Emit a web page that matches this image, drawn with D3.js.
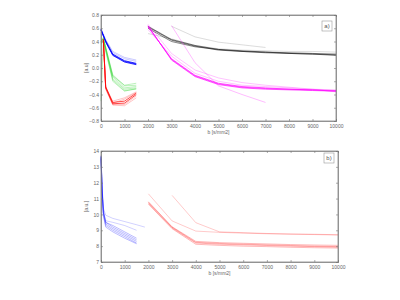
<!DOCTYPE html>
<html><head><meta charset="utf-8">
<script src="https://cdn.jsdelivr.net/npm/d3@7"></script>
<style>body{margin:0;background:#fff}svg{display:block}text{font-family:"Liberation Sans",Arial,sans-serif}</style>
</head><body>
<svg id="c" width="400" height="300"></svg>
<script>
// ---- Data ----
const xLong = [2000,3000,4000,5000,6000,7000,8000,9000,10000];
const xLong3 = [3000,4000,5000,6000,7000];
// panel a
const aBlueX = [0,200,500,1000,1500];
const aBlue = [
  [0.58,0.40,0.19,0.09,0.05],
  [0.58,0.39,0.20,0.10,0.06],
  [0.57,0.41,0.21,0.11,0.07],
  [0.59,0.42,0.23,0.14,0.10],
  [0.60,0.43,0.25,0.16,0.12]
];
const aGreenX = [0,100,500,1000,1500];
const aGreen = [
  [0.40,0.45,-0.10,-0.27,-0.26],
  [0.42,0.43,-0.13,-0.30,-0.28],
  [0.38,0.44,-0.16,-0.32,-0.30],
  [0.36,0.42,-0.18,-0.34,-0.32],
  [0.40,0.46,-0.12,-0.26,-0.23],
  [-0.50,0.40,-0.20,-0.35,-0.31]
];
const aRedX = [100,200,500,1000,1500];
const aRed = [
  [0.42,-0.30,-0.54,-0.53,-0.40],
  [0.44,-0.28,-0.52,-0.50,-0.38],
  [0.40,-0.32,-0.55,-0.55,-0.42],
  [0.43,-0.29,-0.53,-0.47,-0.37],
  [0.41,-0.31,-0.56,-0.57,-0.45],
  [0.42,-0.30,-0.50,-0.45,-0.36]
];
const aBlack = [
  [0.62,0.42,0.33,0.27,0.25,0.23,0.22,0.21,0.20],
  [0.60,0.40,0.32,0.28,0.25,0.24,0.22,0.21,0.19],
  [0.63,0.43,0.34,0.28,0.26,0.24,0.23,0.22,0.21]
];
const aGrey = [0.52,0.44,0.34,0.29,0.27,0.26,0.25,0.25,0.24];
const aGrey3 = [0.63,0.47,0.39,0.35,0.31];
const aMag = [
  [0.63,0.13,-0.12,-0.24,-0.29,-0.31,-0.32,-0.33,-0.34],
  [0.62,0.14,-0.11,-0.23,-0.28,-0.30,-0.32,-0.33,-0.35],
  [0.64,0.12,-0.13,-0.25,-0.30,-0.32,-0.33,-0.34,-0.35]
];
const aMagLight = [
  [0.66,0.22,-0.03,-0.15,-0.22,-0.26,-0.29,-0.32,-0.36],
  [0.58,0.18,-0.08,-0.20,-0.26,-0.28,-0.30,-0.32,-0.33]
];
const aMagLight3 = [0.64,0.08,-0.27,-0.40,-0.52];
// panel b
const bBlueX = [0,50,100,200,500,1000,1500];
const bBlue = [
  [13.7,11.6,10.3,9.5,9.2,8.8,8.4],
  [13.6,11.4,10.1,9.4,9.1,8.7,8.3],
  [13.7,11.5,10.0,9.3,9.0,8.6,8.2],
  [13.5,11.3,9.9,9.2,8.9,8.5,8.15],
  [13.6,11.5,10.2,9.5,9.3,8.9,8.5]
];
const bBlueLightX = [0,50,100,200,500,1000,1500,1850];
const bBlueLight = [13.7,11.7,10.4,9.95,9.75,9.55,9.35,9.2];
const bBlueLight2 = [13.6,11.4,10.1,9.6,9.5,9.3,9.0];
const bRed = [
  [10.76,9.19,8.24,8.17,8.12,8.08,8.04,8.00,7.97],
  [10.70,9.15,8.20,8.12,8.08,8.04,8.00,7.97,7.94],
  [10.65,9.10,8.12,8.05,8.00,7.97,7.93,7.90,7.88],
  [10.80,9.22,8.30,8.22,8.18,8.14,8.10,8.07,8.05]
];
const bRedLight = [11.3,9.59,8.95,8.87,8.82,8.78,8.75,8.73,8.70];
const bRedLight3X = [3000,4000,5000,6000,7000,8000,9000,10000];
const bRedLight3 = [11.2,9.48,8.90,8.85,8.80,8.77,8.75,8.72];
const xTicks = [0,1000,2000,3000,4000,5000,6000,7000,8000,9000,10000];
const aYTicks = [-0.8,-0.6,-0.4,-0.2,0,0.2,0.4,0.6,0.8];
const bYTicks = [7,8,9,10,11,12,13,14];

const svg = d3.select('#c');

function panel(cfg){
  const x = d3.scaleLinear().domain([0,10000]).range([cfg.l,cfg.r]);
  const y = d3.scaleLinear().domain(cfg.yd).range([cfg.b,cfg.t]);
  const g = svg.append('g');
  const line = (xs) => d3.line().defined(d=>d[1]!=null).x(d=>x(d[0])).y(d=>y(d[1]));
  function draw(xs, ys, color, op, w){
    const pts = xs.map((v,i)=>[v,ys[i]]).filter(p=>p[1]!=null);
    g.append('path').attr('d', line()(pts)).attr('fill','none')
      .attr('stroke',color).attr('stroke-opacity',op).attr('stroke-width',w);
  }
  cfg.series(draw);
  // box
  g.append('rect').attr('x',cfg.l).attr('y',cfg.t).attr('width',cfg.r-cfg.l).attr('height',cfg.b-cfg.t)
    .attr('fill','none').attr('stroke','#777').attr('stroke-width',0.7);
  // axes
  const fmt = cfg.fmt;
  const ax = g.append('g').attr('transform',`translate(0,${cfg.b})`)
    .call(d3.axisBottom(x).tickValues(xTicks).tickSize(-2).tickPadding(3).tickFormat(d3.format('d')));
  const axT = g.append('g').attr('transform',`translate(0,${cfg.t})`)
    .call(d3.axisTop(x).tickValues(xTicks).tickSize(-2).tickFormat(''));
  const ay = g.append('g').attr('transform',`translate(${cfg.l},0)`)
    .call(d3.axisLeft(y).tickValues(cfg.yt).tickSize(-2).tickPadding(2).tickFormat(fmt));
  const ayR = g.append('g').attr('transform',`translate(${cfg.r},0)`)
    .call(d3.axisRight(y).tickValues(cfg.yt).tickSize(-2).tickFormat(''));
  [ax,axT,ay,ayR].forEach(a=>{
    a.select('.domain').attr('stroke','#777').attr('stroke-width',0.7);
    a.selectAll('.tick line').attr('stroke','#777').attr('stroke-width',0.6);
    a.selectAll('text').attr('font-size',5).attr('fill','#666');
  });
  // labels
  g.append('text').attr('x',(cfg.l+cfg.r)/2).attr('y',cfg.b+13).attr('text-anchor','middle')
    .attr('font-size',5).attr('fill','#666').text('b [s/mm2]');
  g.append('text').attr('transform',`translate(${cfg.l-13},${(cfg.t+cfg.b)/2}) rotate(-90)`)
    .attr('text-anchor','middle').attr('font-size',5).attr('fill','#666').text(cfg.ylab);
  // legend-like tag
  g.append('rect').attr('x',cfg.tag[0]).attr('y',cfg.tag[1]).attr('width',10).attr('height',10)
    .attr('fill','#fff').attr('stroke','#999').attr('stroke-width',0.6);
  g.append('text').attr('x',cfg.tag[0]+5).attr('y',cfg.tag[1]+7).attr('text-anchor','middle')
    .attr('font-size',6).attr('fill','#555').text(cfg.tagText);
}

panel({l:101,r:336,t:15,b:121,yd:[-0.8,0.8],yt:aYTicks,fmt:d3.format('.1f'),
  ylab:'[a.u]',tag:[322,21],tagText:'a)',
  series(draw){
    aBlue.forEach((s,i)=>draw(aBlueX,s,'#0000ff',i<3?0.8:0.35,i<3?1:0.6));
    aGreen.forEach((s,i)=>draw(aGreenX,s,'#00cc00',0.45,0.6));
    aRed.forEach((s,i)=>draw(aRedX,s,'#ff0000',i<2?0.8:0.4,i<2?0.9:0.6));
    draw(xLong,aGrey,'#888',0.5,0.6);
    draw(xLong3,aGrey3,'#888',0.5,0.6);
    aBlack.forEach(s=>draw(xLong,s,'#000',0.6,0.8));
    aMagLight.forEach(s=>draw(xLong,s,'#ff00ff',0.4,0.6));
    draw(xLong3,aMagLight3,'#ff00ff',0.45,0.6);
    aMag.forEach(s=>draw(xLong,s,'#ff00ff',0.7,0.9));
  }});

panel({l:101,r:338,t:151,b:262,yd:[7,14],yt:bYTicks,fmt:d3.format('d'),
  ylab:'[a.u.]',tag:[324,153],tagText:'b)',
  series(draw){
    draw(bBlueLightX,bBlueLight,'#0000ff',0.3,0.6);
    draw(bBlueX,bBlueLight2,'#0000ff',0.3,0.6);
    bBlue.forEach(s=>draw(bBlueX,s,'#0000ff',0.45,0.6));
    draw(xLong,bRedLight,'#ff0000',0.3,0.7);
    draw(bRedLight3X,bRedLight3,'#ff0000',0.3,0.7);
    bRed.forEach(s=>draw(xLong,s,'#ff0000',0.4,0.7));
  }});
</script>
</body></html>
